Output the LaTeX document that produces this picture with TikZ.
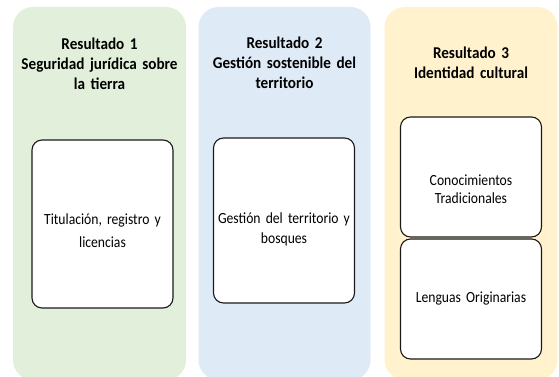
\documentclass[tikz,border=0pt]{standalone}
\usepackage{fontspec}
\setmainfont{Carlito}
\newfontfamily\titlefont[FakeStretch=0.92,WordSpace=0.75]{Carlito}
\newfontfamily\bodyfont[FakeStretch=0.88,WordSpace=0.75]{Carlito}
\definecolor{pgreen}{HTML}{E2EFDA}
\definecolor{pblue}{HTML}{DEEBF7}
\definecolor{pyellow}{HTML}{FFF2CC}
\definecolor{edge}{HTML}{1A1A1A}
\begin{document}
\begin{tikzpicture}[x=1pt,y=-1pt,
  panel/.style={rounded corners=20pt,draw=none,minimum width=173pt,minimum height=373pt,inner sep=0pt},
  title/.style={font=\titlefont\bfseries\fontsize{16.5}{20}\selectfont,align=center,text width=172pt,inner sep=0pt},
  item/.style={draw=edge,line width=1.1pt,fill=white,rounded corners=10pt,minimum width=141pt,inner sep=0pt},
  itemtext/.style={align=center,inner sep=0pt,text width=138pt}]
\useasboundingbox (0,0) rectangle (559,377);
\node[panel,fill=pgreen] (p1) at (99.5,193.5) {};
\node[panel,fill=pblue,minimum width=172pt] (p2) at (284.5,193.5) {};
\node[panel,fill=pyellow] (p3) at (471,193.5) {};
\node[title] (t1) at (99.5,64) {Resultado 1\\Seguridad jurídica sobre\\la tierra};
\node[title] (t2) at (284.5,63) {Resultado 2\\Gestión sostenible del\\territorio};
\node[title] (t3) at (471,63) {Resultado 3\\Identidad cultural};
\node[item,minimum height=168pt] (b1) at (102.5,224) {};
\node[item,minimum height=165pt] (b2) at (284,220.5) {};
\node[item,minimum height=120pt] (b3) at (471,177) {};
\node[item,minimum height=120pt] (b4) at (471,299) {};
\node[itemtext,font=\bodyfont\fontsize{15.5}{23}\selectfont] (l1) at (102.5,231) {Titulación, registro y\\licencias};
\node[itemtext,font=\bodyfont\fontsize{15.5}{20}\selectfont] (l2) at (284,229.5) {Gestión del territorio y\\bosques};
\node[itemtext,font=\bodyfont\fontsize{15.5}{18}\selectfont] (l3) at (471,189.5) {Conocimientos\\Tradicionales};
\node[itemtext,font=\bodyfont\fontsize{15.5}{18}\selectfont] (l4) at (471,298) {Lenguas Originarias};
\end{tikzpicture}
\end{document}
